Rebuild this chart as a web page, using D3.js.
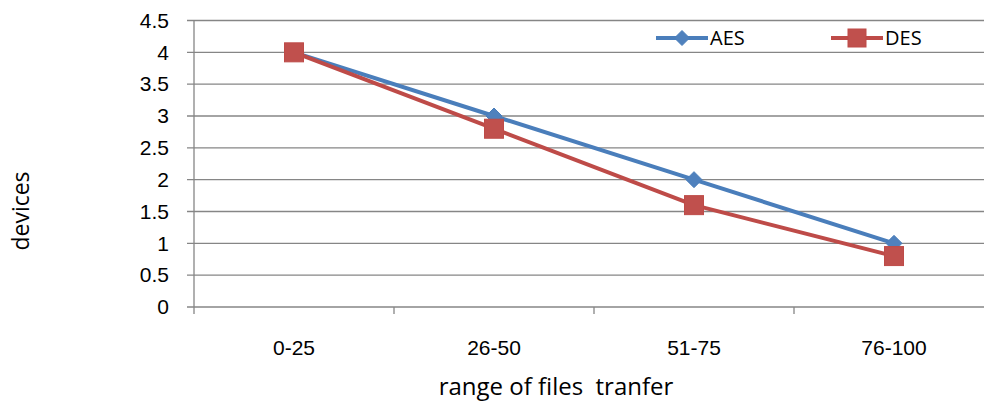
<!DOCTYPE html>
<html>
<head>
<meta charset="utf-8">
<script src="https://cdn.jsdelivr.net/npm/d3@7"></script>
<style>
  html, body { margin: 0; padding: 0; background: #fff; }
  svg { display: block; font-family: "Open Sans", sans-serif; }
  text { white-space: pre; }
</style>
</head>
<body>
<svg id="chart" width="984" height="403"></svg>
<script>
const categories = ["0-25", "26-50", "51-75", "76-100"];
const aesValues = [4, 3, 2, 1];
const desValues = [4, 2.8, 1.6, 0.8];
const yTicks = [0, 0.5, 1, 1.5, 2, 2.5, 3, 3.5, 4, 4.5];
const seriesNames = ["AES", "DES"];

const svg = d3.select("#chart");
const plotLeft = 194, plotRight = 994, plotTop = 20.5, plotBottom = 307;

const x = d3.scaleBand().domain(categories).range([plotLeft, plotRight]);
const y = d3.scaleLinear().domain([0, 4.5]).range([plotBottom, plotTop]);

const gridColor = "#868686";

// horizontal gridlines
svg.append("g").selectAll("line").data(yTicks).join("line")
  .attr("x1", plotLeft - 7).attr("x2", plotRight)
  .attr("y1", d => y(d)).attr("y2", d => y(d))
  .attr("stroke", gridColor).attr("stroke-width", 1.3);

// y axis
const yAxis = svg.append("g").attr("transform", `translate(${plotLeft},0)`)
  .call(d3.axisLeft(y).tickValues(yTicks).tickSize(0).tickPadding(25).tickFormat(d => String(d)));
yAxis.select(".domain").remove();
yAxis.selectAll("text").attr("font-size", 21).attr("fill", "#000").attr("font-family", "inherit");
svg.append("line").attr("x1", plotLeft).attr("x2", plotLeft).attr("y1", plotTop).attr("y2", plotBottom)
  .attr("stroke", gridColor).attr("stroke-width", 1.3);

// x axis
const xAxis = svg.append("g").attr("transform", `translate(0,${plotBottom})`)
  .call(d3.axisBottom(x).tickSize(0).tickPadding(33));
xAxis.select(".domain").remove();
xAxis.selectAll("text").attr("font-size", 21).attr("fill", "#000").attr("font-family", "inherit");
const bounds = categories.map(c => x(c)).concat([plotRight]);
svg.append("g").selectAll("line").data(bounds).join("line")
  .attr("x1", d => d).attr("x2", d => d).attr("y1", plotBottom).attr("y2", plotBottom + 7)
  .attr("stroke", gridColor).attr("stroke-width", 1.3);

// axis titles
svg.append("text").attr("x", 556).attr("y", 395).attr("text-anchor", "middle")
  .attr("font-size", 24).text("range of files  tranfer");
svg.append("text").attr("transform", "translate(29,211) rotate(-90)").attr("text-anchor", "middle")
  .attr("font-size", 23).text("devices");

const cx = d => x(d) + x.bandwidth() / 2;
const line = d3.line().x((d, i) => cx(categories[i])).y(d => y(d));

const aesColor = "#4F81BD", desColor = "#C0504D";

function diamond(g, px, py, s) {
  g.append("path").attr("d", `M${px},${py - s}L${px + s},${py}L${px},${py + s}L${px - s},${py}Z`)
    .attr("fill", aesColor).attr("stroke", "#4A7EBB").attr("stroke-width", 1);
}
function square(g, px, py, s) {
  g.append("rect").attr("x", px - s).attr("y", py - s).attr("width", 2 * s).attr("height", 2 * s)
    .attr("fill", desColor).attr("stroke", "#BE4B48").attr("stroke-width", 1);
}

// AES series
const gA = svg.append("g");
gA.append("path").datum(aesValues).attr("d", line).attr("fill", "none")
  .attr("stroke", "#4A7EBB").attr("stroke-width", 4).attr("stroke-linejoin", "round");
aesValues.forEach((v, i) => diamond(gA, cx(categories[i]), y(v), 8));

// DES series
const gD = svg.append("g");
gD.append("path").datum(desValues).attr("d", line).attr("fill", "none")
  .attr("stroke", "#BE4B48").attr("stroke-width", 4).attr("stroke-linejoin", "round");
desValues.forEach((v, i) => square(gD, cx(categories[i]), y(v), 9.5));

// legend
const legY = 38;
const leg = svg.append("g");
[[seriesNames[0], 656, "#4A7EBB", diamond, 7.5], [seriesNames[1], 831, "#BE4B48", square, 9]].forEach(([name, lx, col, mk, s]) => {
  leg.append("line").attr("x1", lx).attr("x2", lx + 52).attr("y1", legY).attr("y2", legY)
    .attr("stroke", col).attr("stroke-width", 4);
  mk(leg, lx + 26, legY, s);
  leg.append("text").attr("x", lx + 54).attr("y", legY + 7).attr("font-size", 20).text(name);
});
</script>
</body>
</html>
